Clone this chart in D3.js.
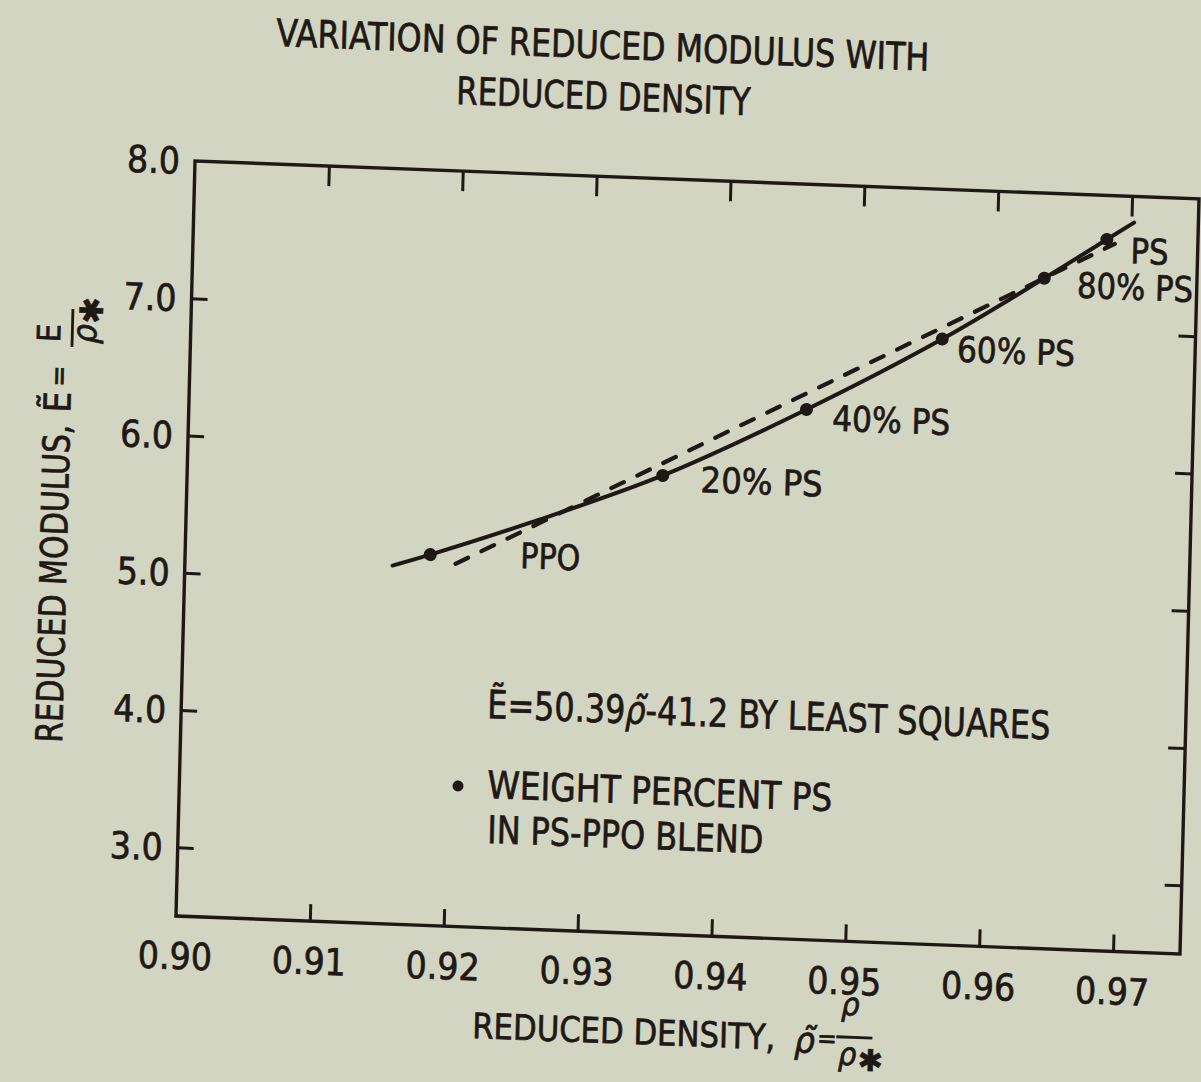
<!DOCTYPE html>
<html>
<head>
<meta charset="utf-8">
<script src="https://cdn.jsdelivr.net/npm/d3@7"></script>
<style>
html,body{margin:0;padding:0;background:#d2d5c1;}
svg{display:block;}
text{font-family:"Liberation Sans Narrow","DejaVu Sans Condensed","Liberation Sans",sans-serif;fill:#1f1916;stroke:#1f1916;stroke-width:0.7px;}
</style>
</head>
<body>
<svg id="chart" width="1201" height="1082"></svg>
<script>
// ---- data ----
const blendLabels = ["PPO", "20% PS", "40% PS", "60% PS", "80% PS", "PS"];
const blendDensity = [0.9183, 0.9355, 0.9461, 0.9561, 0.9636, 0.9682];
const blendModulus = [5.20, 5.84, 6.36, 6.91, 7.38, 7.68];

// smooth (solid) curve drawn through the data
const curveDensity = [0.9155, 0.9183, 0.9257, 0.9355, 0.9461, 0.9561, 0.9636, 0.9682, 0.9702];
const curveModulus = [5.11, 5.20, 5.46, 5.84, 6.36, 6.91, 7.38, 7.68, 7.81];

// least-squares line (dashed), end points
const fitDensity = [0.9202, 0.9688];
const fitModulus = [5.14, 7.65];

const xTickValues = [0.90, 0.91, 0.92, 0.93, 0.94, 0.95, 0.96, 0.97];
const xTickLabels = ["0.90", "0.91", "0.92", "0.93", "0.94", "0.95", "0.96", "0.97"];
const yTickValues = [3, 4, 5, 6, 7, 8];
const yTickLabels = ["3.0", "4.0", "5.0", "6.0", "7.0", "8.0"];

// ---- layout / style (kept apart from data) ----
const INK = "#1f1916";
const W = 1004, H = 755;
// the scanned page is slightly skewed: frame -> page transform
const M = {a: 1, b: 0.0378, c: -0.0252, d: 1, e: 195, f: 161};
function inv(px, py) {
  const dx = px - M.e, dy = py - M.f, det = M.a * M.d - M.b * M.c;
  return [(M.d * dx - M.c * dy) / det, (-M.b * dx + M.a * dy) / det];
}
const labelOffsets = [[90, 10], [38, 15], [26, 20], [15, 22], [33, 18], [24, 23]];
const labelWidths = [60, 122, 118, 118, 116, 38];

const svg = d3.select("#chart");
svg.append("rect").attr("width", 1201).attr("height", 1082).attr("fill", "#d2d5c1");

const g = svg.append("g")
  .attr("transform", `matrix(${M.a},${M.b},${M.c},${M.d},${M.e},${M.f})`);

const x = d3.scaleLinear().domain([0.90, 0.975]).range([0, W]);
const y = d3.scaleLinear().domain([2.5, 8.0]).range([H, 0]);

// frame
g.append("rect").attr("x", 0).attr("y", 0).attr("width", W).attr("height", H)
  .attr("fill", "none").attr("stroke", INK).attr("stroke-width", 3.4);

function styleAxis(sel) {
  sel.select(".domain").remove();
  sel.selectAll(".tick line").attr("stroke", INK).attr("stroke-width", 3);
  sel.selectAll(".tick text").remove();
}
const innerX = xTickValues.slice(1);
const innerY = yTickValues.slice(0, -1);
g.append("g").attr("transform", `translate(0,${H})`)
  .call(d3.axisBottom(x).tickValues(innerX).tickSize(-17).tickFormat(""))
  .call(styleAxis);
g.append("g")
  .call(d3.axisTop(x).tickValues(innerX).tickSize(-20).tickFormat(""))
  .call(styleAxis);
g.append("g")
  .call(d3.axisLeft(y).tickValues(innerY).tickSize(-16).tickFormat(""))
  .call(styleAxis);
g.append("g").attr("transform", `translate(${W},0)`)
  .call(d3.axisRight(y).tickValues(innerY).tickSize(-17).tickFormat(""))
  .call(styleAxis);

// tick labels
g.append("g").selectAll("text").data(xTickValues).join("text")
  .attr("x", d => x(d)).attr("y", H + 53)
  .attr("text-anchor", "middle").attr("font-size", 37)
  .text((d, i) => xTickLabels[i]);
g.append("g").selectAll("text").data(yTickValues).join("text")
  .attr("x", -15).attr("y", d => y(d)).attr("dy", "0.36em")
  .attr("text-anchor", "end").attr("font-size", 37)
  .text((d, i) => yTickLabels[i]);

// least squares dashed line
const fitPts = fitDensity.map((d, i) => [d, fitModulus[i]]);
g.append("path").datum(fitPts)
  .attr("d", d3.line().x(d => x(d[0])).y(d => y(d[1])))
  .attr("fill", "none").attr("stroke", INK).attr("stroke-width", 4.2)
  .attr("stroke-linecap", "round").attr("stroke-dasharray", "14,15");

// solid curve
const curvePts = curveDensity.map((d, i) => [d, curveModulus[i]]);
g.append("path").datum(curvePts)
  .attr("d", d3.line().x(d => x(d[0])).y(d => y(d[1])).curve(d3.curveCatmullRom.alpha(0.5)))
  .attr("fill", "none").attr("stroke", INK).attr("stroke-width", 4)
  .attr("stroke-linecap", "round");

// data points
const pts = blendDensity.map((d, i) => ({d, m: blendModulus[i], label: blendLabels[i], i}));
g.append("g").selectAll("circle").data(pts).join("circle")
  .attr("cx", p => x(p.d)).attr("cy", p => y(p.m)).attr("r", 6.5).attr("fill", INK);
g.append("g").selectAll("text").data(pts).join("text")
  .attr("x", p => x(p.d) + labelOffsets[p.i][0])
  .attr("y", p => y(p.m) + labelOffsets[p.i][1])
  .attr("font-size", 35)
  .attr("textLength", p => labelWidths[p.i]).attr("lengthAdjust", "spacingAndGlyphs")
  .text(p => p.label);

// helper to place text at page coords (inside skewed frame)
function pageText(px, py, str, size, len) {
  const [u, v] = inv(px, py);
  const t = g.append("text").attr("x", u).attr("y", v).attr("font-size", size);
  if (len) t.attr("textLength", len).attr("lengthAdjust", "spacingAndGlyphs");
  if (str !== null) t.text(str);
  return t;
}

// title
pageText(276, 46, "VARIATION OF REDUCED MODULUS WITH", 38, 653);
pageText(456, 104, "REDUCED DENSITY", 38, 294);

// equation and legend
const eq = pageText(487, 718, null, 39, 563);
eq.append("tspan").text("\u1EBC=50.39");
eq.append("tspan").attr("font-style", "italic").text("\u03C1\u0303");
eq.append("tspan").text("-41.2 BY LEAST SQUARES");

{
  const [u, v] = inv(458, 786);
  g.append("circle").attr("cx", u).attr("cy", v).attr("r", 5.5).attr("fill", INK);
}
pageText(487, 798, "WEIGHT PERCENT PS", 38, 345);
pageText(487, 843, "IN PS-PPO BLEND", 38, 276);

// x-axis title
{
  const [u, v] = inv(472, 1038);
  const gx = g.append("g").attr("transform", `translate(${u},${v})`);
  gx.append("text").attr("x", 0).attr("y", 0).attr("font-size", 35)
    .attr("textLength", 303).attr("lengthAdjust", "spacingAndGlyphs").text("REDUCED DENSITY,");
  gx.append("text").attr("x", 322).attr("y", 2).attr("font-size", 36)
    .attr("font-style", "italic").text("\u03C1\u0303");
  gx.append("text").attr("x", 345).attr("y", -4).attr("font-size", 26).text("=");
  gx.append("text").attr("x", 368).attr("y", -37).attr("font-size", 32)
    .attr("font-style", "italic").text("\u03C1");
  gx.append("line").attr("x1", 364).attr("x2", 400).attr("y1", -15).attr("y2", -15)
    .attr("stroke", INK).attr("stroke-width", 2.8);
  gx.append("text").attr("x", 366).attr("y", 13).attr("font-size", 32)
    .attr("font-style", "italic").text("\u03C1");
  gx.append("text").attr("x", 386).attr("y", 18).attr("font-size", 30)
    .style("font-family", "'DejaVu Sans',sans-serif").text("\u2731");
}

// y-axis title (rotated)
{
  const [u, v] = inv(62, 743);
  const gy = g.append("g").attr("transform", `translate(${u},${v}) rotate(-90)`);
  gy.append("text").attr("x", 0).attr("y", 0).attr("font-size", 37)
    .attr("textLength", 318).attr("lengthAdjust", "spacingAndGlyphs").text("REDUCED MODULUS,");
  gy.append("text").attr("x", 330).attr("y", 0).attr("font-size", 37).text("\u1EBC");
  gy.append("text").attr("x", 356).attr("y", -3).attr("font-size", 28).text("=");
  gy.append("text").attr("x", 400).attr("y", -12).attr("font-size", 32).text("E");
  gy.append("line").attr("x1", 396).attr("x2", 434).attr("y1", 0).attr("y2", 0)
    .attr("stroke", INK).attr("stroke-width", 2.8);
  gy.append("text").attr("x", 400).attr("y", 24).attr("font-size", 34)
    .attr("font-style", "italic").text("\u03C1");
  gy.append("text").attr("x", 420).attr("y", 30).attr("font-size", 32)
    .style("font-family", "'DejaVu Sans',sans-serif").text("\u2731");
}
</script>
</body>
</html>
